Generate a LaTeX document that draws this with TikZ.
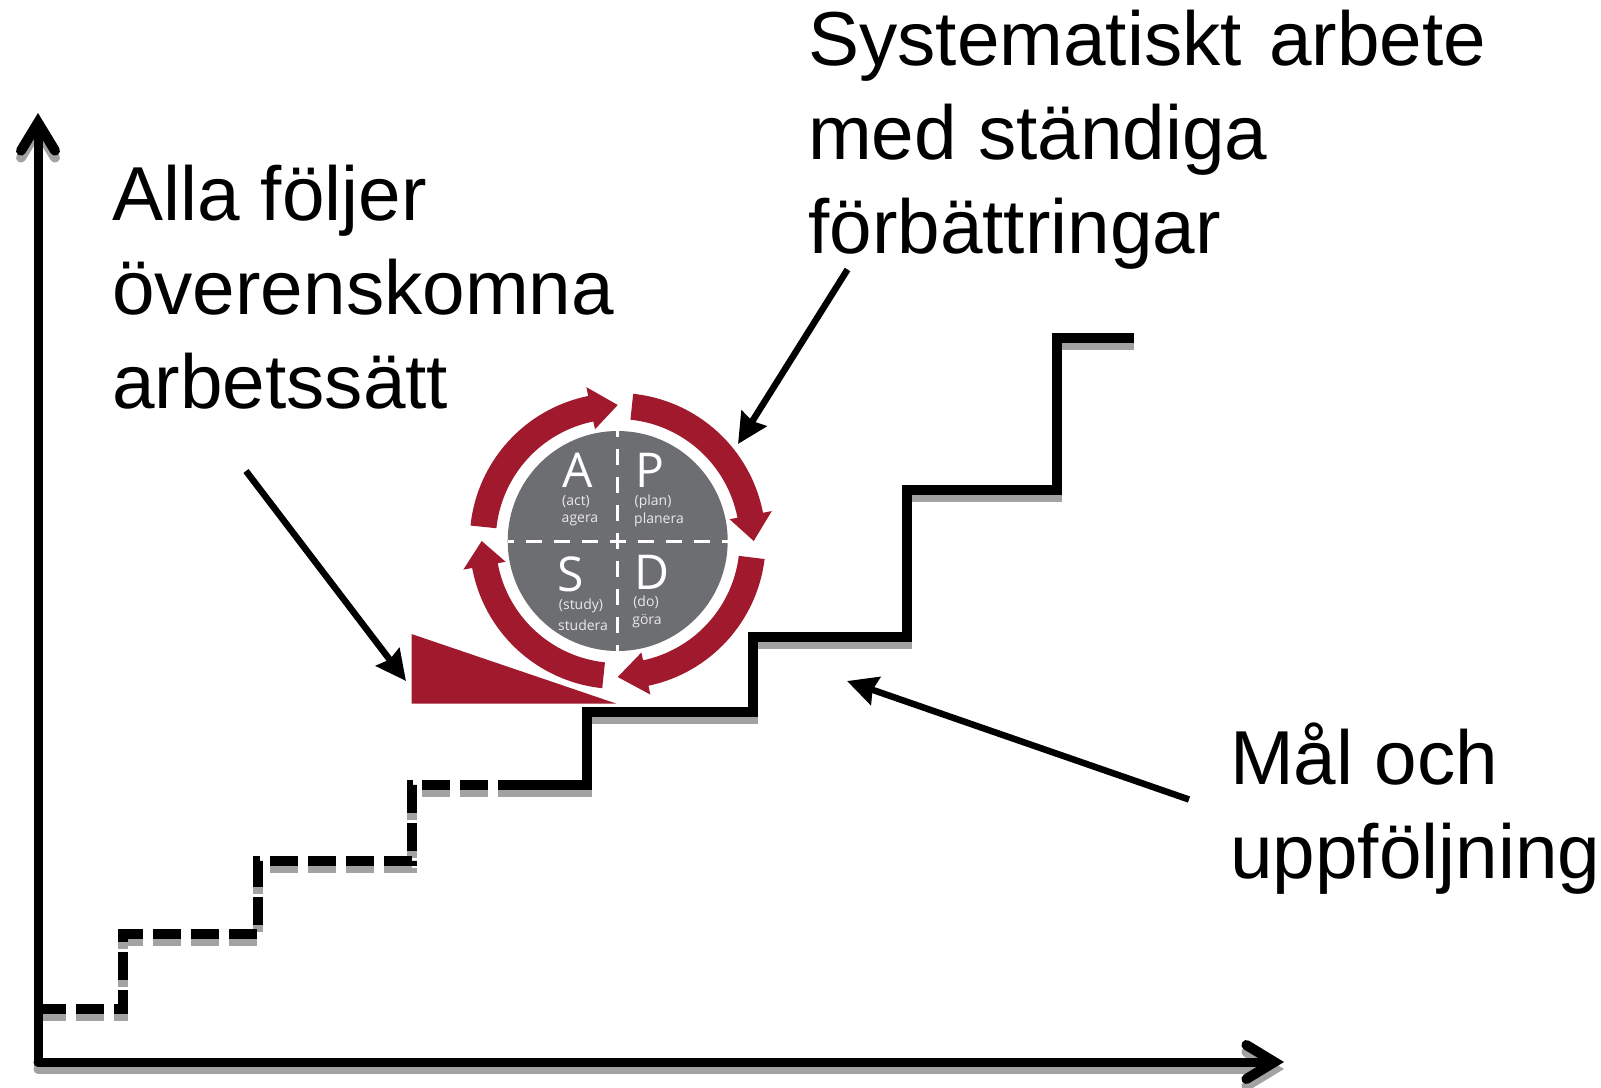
\documentclass[tikz,border=0pt]{standalone}
\usepackage{fontspec}
\setmainfont{Liberation Sans}
\newfontfamily\wheelfont{Open Sans}
\usetikzlibrary{arrows.meta}
\definecolor{wheelred}{HTML}{A0192D}
\definecolor{wheelgray}{HTML}{6D6E71}
\definecolor{shadowgray}{HTML}{A2A2A2}
\tikzset{
  label text/.style={inner sep=0pt,anchor=north west,align=left,font=\fontsize{76.5}{94}\selectfont},
  axis line/.style={line width=9pt,-{Straight Barb[length=28pt,width=34pt,line width=10pt,line cap=round,line join=miter]},line cap=round},
  stair line/.style={line width=10pt,line join=miter},
  stair dash/.style={stair line,dash pattern=on 28pt off 10pt},
  soft shadow/.style={draw=shadowgray,transform canvas={yshift=-7pt}},
  pointer/.style={line width=6.5pt,-{Stealth[length=30pt,width=29pt,inset=3pt]}},
  ring part/.style={fill=wheelred,draw=none},
  quarter line/.style={draw=white,line width=3pt,dash pattern=on 16pt off 12pt,dash phase=8pt},
  big letter/.style={text=white,inner sep=0pt,font=\wheelfont\fontsize{48}{48}\selectfont},
  small word/.style={text=white!85!wheelgray,inner sep=0pt,font=\wheelfont\fontsize{14}{14}\selectfont}
}
\begin{document}
\begin{tikzpicture}[x=1pt,y=-1pt]
\useasboundingbox (0,0) rectangle (1601,1087);
% coordinates
\coordinate (org) at (38,1062);
\coordinate (yend) at (38,113);
\coordinate (xend) at (1284,1062);
\coordinate (s0) at (38,1009);
\coordinate (s1) at (122.5,1009);
\coordinate (s2) at (122.5,934);
\coordinate (s3) at (258,934);
\coordinate (s4) at (258,861);
\coordinate (s5) at (411.5,861);
\coordinate (s6) at (411.5,785);
\coordinate (s7) at (503,785);
\coordinate (s8) at (587,785);
\coordinate (s9) at (587,712);
\coordinate (s10) at (752.5,712);
\coordinate (s11) at (752.5,637);
\coordinate (s12) at (907,637);
\coordinate (s13) at (907,490);
\coordinate (s14) at (1057,490);
\coordinate (s15) at (1057,338);
\coordinate (s16) at (1134,338);
% shadows
\draw[axis line,soft shadow] (org) -- (xend);
\draw[axis line,soft shadow] (org) -- (yend);
\draw[stair line,soft shadow] (s7) -- (s8) -- (s9) -- (s10) -- (s11) -- (s12) -- (s13) -- (s14) -- (s15) -- (s16);
\draw[stair dash,soft shadow] (s0) -- (s1) -- (s2) -- (s3) -- (s4) -- (s5) -- (s6) -- (s7);
% stairs
\draw[stair dash] (s0) -- (s1) -- (s2) -- (s3) -- (s4) -- (s5) -- (s6) -- (s7);
\draw[stair line] (s7) -- (s8) -- (s9) -- (s10) -- (s11) -- (s12) -- (s13) -- (s14) -- (s15) -- (s16);
% axes
\draw[axis line] (org) -- (yend);
\draw[axis line] (org) -- (xend);
% wedge
\fill[wheelred] (411.5,634) -- (411.5,703.5) -- (616,703.5) -- cycle;
% wheel
\begin{scope}[shift={(617.7,541)}]
\fill[wheelgray] (0,0) circle[radius=110pt];
\draw[quarter line] (0,0) -- (110pt,0);
\draw[quarter line] (0,0) -- (-110pt,0);
\draw[quarter line] (0,0) -- (0,110pt);
\draw[quarter line] (0,0) -- (0,-110pt);
\foreach \s/\b/\t in {84/11/0, -7/-78/-90, -96/-169.5/-180, 174/101.5/90}{
  \path[ring part] (\s:148pt) arc[start angle=\s,end angle=\b,radius=148pt]
    -- (\b:157pt) -- (\t:136pt) -- (\b:114pt) -- (\b:122pt)
    arc[start angle=\b,end angle=\s,radius=122pt] -- cycle;
}
\end{scope}
\node[big letter] (la) at (578,470) {A};
\node[big letter] (lp) at (650,470) {P};
\node[big letter] (ls) at (571,574) {S};
\node[big letter] (ld) at (652,572) {D};
\node[small word] (wa1) at (576,502) {(act)};
\node[small word] (wa2) at (580,520) {agera};
\node[small word] (wp1) at (653,502) {(plan)};
\node[small word] (wp2) at (659,520) {planera};
\node[small word] (ws1) at (581,606) {(study)};
\node[small word] (ws2) at (583,625) {studera};
\node[small word] (wd1) at (646,602) {(do)};
\node[small word] (wd2) at (647,621) {göra};
% labels
\node[label text] (sys) at (808,9.5) {Systematiskt\hspace{6pt} arbete\\med ständiga\\förbättringar};
\node[label text] (alla) at (112,165) {Alla följer\\överenskomna\\arbetssätt};
\node[label text] (mal) at (1230,722.5) {Mål och\\uppföljning};
% pointers
\coordinate (p1a) at (847.5,269.5);
\coordinate (p1b) at (738,444);
\coordinate (p2a) at (246,471);
\coordinate (p2b) at (406,681);
\coordinate (p3a) at (1189,799.5);
\coordinate (p3b) at (847,681);
\draw[pointer] (p1a) -- (p1b);
\draw[pointer] (p2a) -- (p2b);
\draw[pointer] (p3a) -- (p3b);
\end{tikzpicture}
\end{document}
